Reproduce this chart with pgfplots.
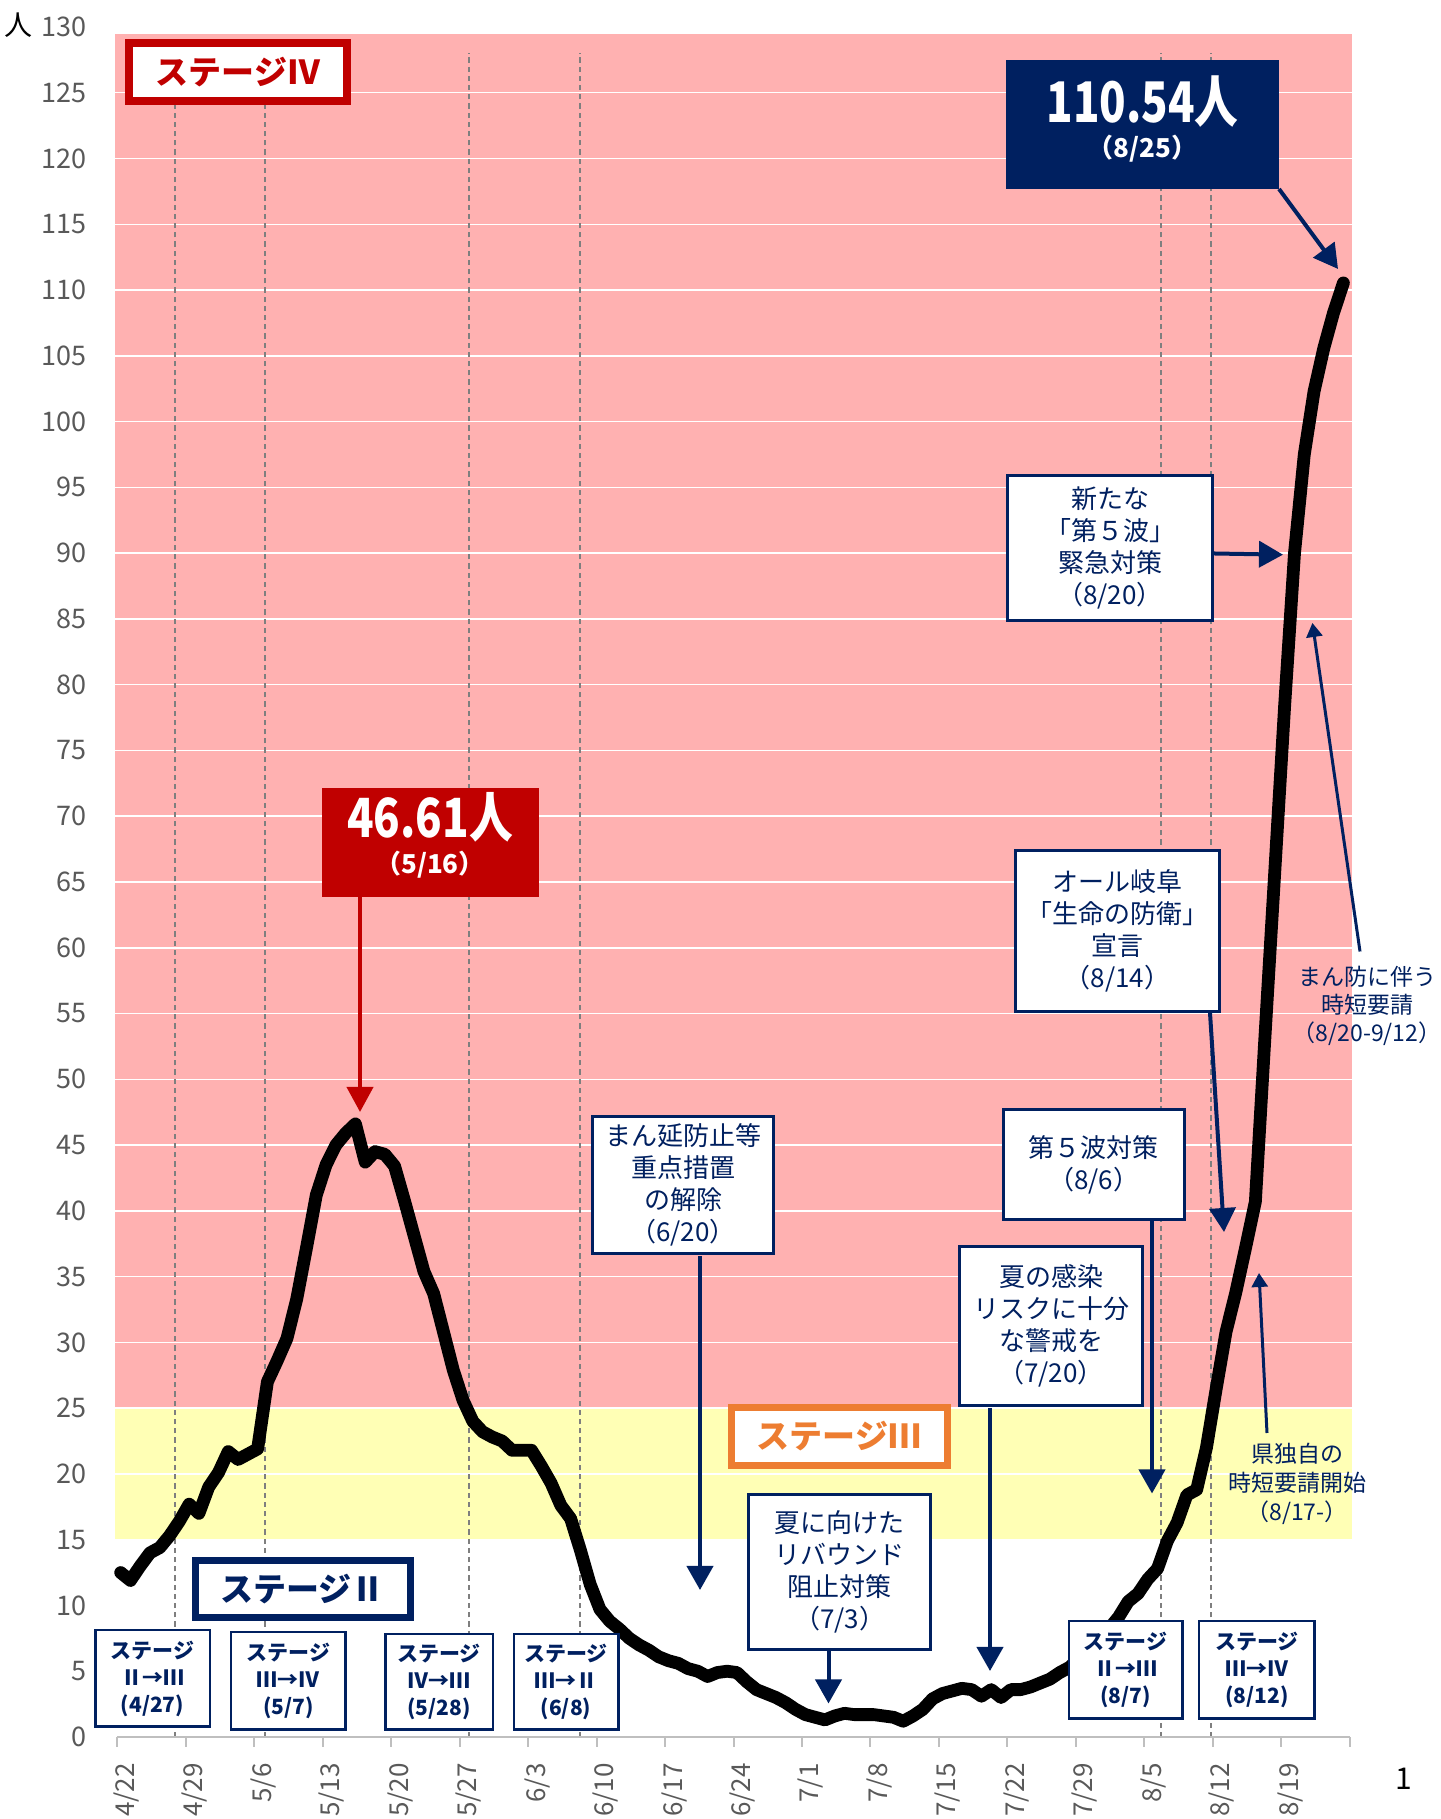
\documentclass[border=0pt]{standalone}
\usepackage{pgfplots}
\pgfplotsset{compat=1.18}
\usepackage{pgfplotstable}
\usepackage{graphicx}
\usepackage{fontspec}
\setmainfont{Noto Sans CJK JP}
\usetikzlibrary{arrows.meta}
\definecolor{pinkband}{RGB}{255,177,177}
\definecolor{yellowband}{RGB}{255,255,181}
\definecolor{navy}{HTML}{002060}
\definecolor{dred}{HTML}{C00000}
\definecolor{orng}{HTML}{ED7D31}
\definecolor{tickgray}{HTML}{595959}
\definecolor{axgray}{HTML}{BFBFBF}
\definecolor{dashgray}{HTML}{7F7F7F}

\pgfplotstableread{
d v
0 12.5
1 11.9
2 13.0
3 14.0
4 14.4
5 15.3
6 16.4
7 17.7
8 17.0
9 19.0
10 20.1
11 21.7
12 21.1
13 21.5
14 21.9
15 27.0
16 28.6
17 30.3
18 33.3
19 37.2
20 41.2
21 43.5
22 45.0
23 45.9
24 46.61
25 43.7
26 44.5
27 44.3
28 43.4
29 40.8
30 38.1
31 35.4
32 33.7
33 30.8
34 27.9
35 25.6
36 24.0
37 23.2
38 22.8
39 22.5
40 21.8
41 21.8
42 21.8
43 20.6
44 19.3
45 17.6
46 16.6
47 14.2
48 11.6
49 9.7
50 8.8
51 8.2
52 7.5
53 7.0
54 6.6
55 6.1
56 5.8
57 5.6
58 5.2
59 5.0
60 4.6
61 4.9
62 5.0
63 4.9
64 4.2
65 3.6
66 3.3
67 3.0
68 2.6
69 2.1
70 1.7
71 1.5
72 1.3
73 1.6
74 1.8
75 1.7
76 1.7
77 1.7
78 1.6
79 1.5
80 1.2
81 1.6
82 2.1
83 2.9
84 3.3
85 3.5
86 3.7
87 3.6
88 3.1
89 3.6
90 3.0
91 3.6
92 3.6
93 3.8
94 4.1
95 4.4
96 4.9
97 5.3
98 6.0
99 6.8
100 7.5
101 8.2
102 9.1
103 10.3
104 10.9
105 12.0
106 12.8
107 14.9
108 16.3
109 18.4
110 18.8
111 22.0
112 26.5
113 30.8
114 33.8
115 37.2
116 40.7
117 53.5
118 66.0
119 78.5
120 90.0
121 97.5
122 102.3
123 105.6
124 108.3
125 110.54
}\curvedata

\tikzset{
  nbox/.style={draw=navy, line width=1.5pt, fill=white, text=navy, align=center, inner sep=0pt, font=\fontsize{13}{16}\selectfont},
  sbox/.style={draw=navy, line width=1.25pt, fill=white, text=navy, align=center, inner sep=0pt, font=\bfseries\fontsize{10.5}{13.5}\selectfont},
  narrow/.style={navy, line width=2pt, -{Triangle[width=13pt,length=12pt]}},
  sarrow/.style={navy, line width=1.5pt, -{Triangle[width=8pt,length=7pt]}},
  vdash/.style={dashgray, line width=1pt, dash pattern=on 2.6pt off 2pt},
}

\begin{document}
\begin{tikzpicture}
\begin{axis}[
  at={(0pt,0pt)}, anchor=south west, scale only axis,
  width=618.7pt, height=855pt,
  xmin=-0.6, xmax=125.9, ymin=0, ymax=130,
  clip=false, set layers,
  axis line style={draw=none},
  tick pos=left,
  ytick={0,5,...,130},
  ytick style={draw=none},
  ymajorgrids, grid style={white, line width=0.75pt},
  xtick={-0.35,6.65,13.65,20.65,27.65,34.65,41.65,48.65,55.65,62.65,69.65,76.65,83.65,90.65,97.65,104.65,111.65,118.65,125.65},
  xticklabels={4/22,4/29,5/6,5/13,5/20,5/27,6/3,6/10,6/17,6/24,7/1,7/8,7/15,7/22,7/29,8/5,8/12,8/19,{}},
  xtick align=outside,
  xtick style={draw=axgray, line width=1pt},
  major tick length=5pt,
  /pgf/number format/assume math mode=true,
  yticklabel style={font=\fontsize{13.5}{13.5}\selectfont, text=tickgray, anchor=east, inner sep=0pt, xshift=-13.9pt},
  xticklabel style={font=\fontsize{13}{13}\selectfont, text=tickgray, xshift=4.5pt, yshift=-8pt, rotate=90, anchor=east, inner sep=0pt},
]
\addplot[fill=pinkband, draw=none, on layer=axis background] coordinates {(-0.6,25) (125.9,25) (125.9,129.5) (-0.6,129.5)} -- cycle;
\addplot[fill=yellowband, draw=none, on layer=axis background] coordinates {(-0.6,15) (125.9,15) (125.9,25) (-0.6,25)} -- cycle;
\draw[vdash] (axis cs:5.6,0) -- (axis cs:5.6,128);
\draw[vdash] (axis cs:14.8,0) -- (axis cs:14.8,128);
\draw[vdash] (axis cs:35.6,0) -- (axis cs:35.6,128);
\draw[vdash] (axis cs:47.0,0) -- (axis cs:47.0,128);
\draw[vdash] (axis cs:106.4,0) -- (axis cs:106.4,128);
\draw[vdash] (axis cs:111.5,0) -- (axis cs:111.5,128);
\draw[axgray, line width=1pt] (axis cs:-0.35,0) -- (axis cs:125.65,0);
\addplot[black, line width=6.4pt, line join=round, line cap=round] table[x=d,y=v]{\curvedata};
\end{axis}

\begin{scope}[shift={(-57.4pt,868.5pt)}, x=0.5pt, y=-0.5pt]
% axis unit
\node[font=\fontsize{14}{14}\selectfont, inner sep=0pt] at (19,25) {人};
\node[font=\fontsize{15}{15}\selectfont, inner sep=0pt] at (1404,1779) {1};
% stage labels
\node[draw=dred, line width=4pt, fill=white, minimum width=109pt, minimum height=29pt, inner sep=0pt, text=dred, font=\bfseries\fontsize{16.5}{16.5}\selectfont] at (238,72) {ステージⅣ};
\node[draw=orng, line width=3.5pt, fill=white, minimum width=108pt, minimum height=29pt, inner sep=0pt, text=orng, font=\bfseries\fontsize{16.5}{16.5}\selectfont] at (839,1436.5) {ステージⅢ};
\node[draw=navy, line width=3.5pt, fill=white, minimum width=107.5pt, minimum height=28.5pt, inner sep=0pt, text=navy, font=\bfseries\fontsize{16.5}{16.5}\selectfont] at (302.7,1589) {ステージⅡ};
% peak boxes
\node[fill=dred, minimum width=108.5pt, minimum height=54.5pt, inner sep=0pt] at (430,842.5) {};
\node[text=white, font=\bfseries\fontsize{27}{27}\selectfont, inner sep=0pt] at (430,817.5) {\scalebox{0.81}[1]{46.61人}};
\node[text=white, font=\bfseries\fontsize{13}{13}\selectfont, inner sep=0pt] at (430,865) {（5/16）};
\draw[dred, line width=2pt, -{Triangle[width=13pt,length=12.5pt]}] (360,897) -- (360,1112);
\node[fill=navy, minimum width=136.5pt, minimum height=64.5pt, inner sep=0pt] at (1142.5,124.5) {};
\node[text=white, font=\bfseries\fontsize{28}{28}\selectfont, inner sep=0pt] at (1142.5,102) {\scalebox{0.78}[1]{110.54人}};
\node[text=white, font=\bfseries\fontsize{13}{13}\selectfont, inner sep=0pt] at (1142.5,148.5) {（8/25）};
\draw[narrow] (1279,189) -- (1338,269);
% text boxes
\node[nbox, minimum width=90.5pt, minimum height=68.5pt] at (683,1185) {まん延防止等\\重点措置\\の解除\\（6/20）};
\draw[narrow] (700,1256) -- (700,1590);
\node[nbox, minimum width=91pt, minimum height=77.5pt] at (839.6,1572) {夏に向けた\\リバウンド\\阻止対策\\（7/3）};
\draw[narrow] (828.5,1651) -- (828.5,1703.5);
\node[nbox, minimum width=91.5pt, minimum height=79.5pt] at (1051,1326) {夏の感染\\リスクに十分\\な警戒を\\（7/20）};
\draw[narrow] (990,1408) -- (990,1671);
\node[nbox, minimum width=90.5pt, minimum height=55pt] at (1093.6,1164.5) {第５波対策\\（8/6）};
\draw[narrow] (1152,1221) -- (1152,1493.5);
\node[nbox, minimum width=102pt, minimum height=80.5pt] at (1117.6,931) {オール岐阜\\「生命の防衛」\\宣言\\（8/14）};
\draw[narrow] (1210,1013) -- (1224,1232);
\node[nbox, minimum width=102.5pt, minimum height=72.5pt] at (1110,548) {新たな\\「第５波」\\緊急対策\\（8/20）};
\draw[narrow] (1214,553.5) -- (1283,554.7);
% free texts
\node[text=navy, align=center, inner sep=0pt, font=\fontsize{11.5}{14}\selectfont] at (1367,1006) {まん防に伴う\\時短要請\\（8/20-9/12）};
\draw[sarrow] (1360,951.5) -- (1312.4,623);
\node[text=navy, align=center, inner sep=0pt, font=\fontsize{11.5}{14.5}\selectfont] at (1297,1483.5) {県独自の\\時短要請開始\\（8/17-）};
\draw[sarrow] (1267,1433) -- (1259,1273);
% stage transition boxes
\node[sbox, minimum width=57.25pt, minimum height=48.25pt] at (152.5,1678.5) {ステージ\\Ⅱ→Ⅲ\\(4/27)};
\node[sbox, minimum width=57.25pt, minimum height=48.75pt] at (288.4,1681) {ステージ\\Ⅲ→Ⅳ\\(5/7)};
\node[sbox, minimum width=53.75pt, minimum height=47.75pt] at (439,1682) {ステージ\\Ⅳ→Ⅲ\\(5/28)};
\node[sbox, minimum width=52.25pt, minimum height=47.75pt] at (566,1682) {ステージ\\Ⅲ→Ⅱ\\(6/8)};
\node[sbox, minimum width=56.75pt, minimum height=48.75pt] at (1125.6,1670) {ステージ\\Ⅱ→Ⅲ\\(8/7)};
\node[sbox, minimum width=57.75pt, minimum height=48.75pt] at (1256.8,1670) {ステージ\\Ⅲ→Ⅳ\\(8/12)};
\end{scope}
\pgfresetboundingbox
\useasboundingbox (-57.4pt,-41pt) rectangle (662.6pt,868.5pt);
\end{tikzpicture}
\end{document}
